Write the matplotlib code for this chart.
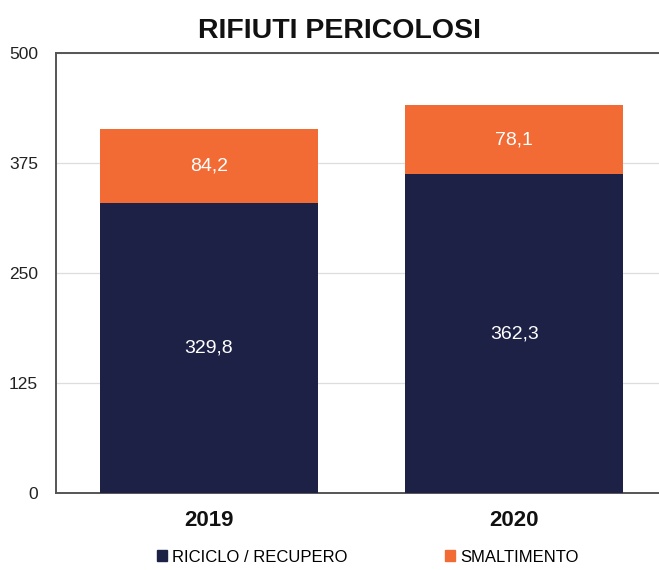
import matplotlib
matplotlib.use("Agg")
import matplotlib.pyplot as plt
from matplotlib.patches import Patch

plt.rcParams['font.family'] = ['Liberation Sans', 'DejaVu Sans']

years = ["2019", "2020"]
riciclo = [329.8, 362.3]
smaltimento = [84.2, 78.1]
yticks = [0, 125, 250, 375, 500]
series_names = ["RICICLO / RECUPERO", "SMALTIMENTO"]
navy = "#1e2146"
orange = "#f26b35"

fig = plt.figure(figsize=(6.59, 5.70), dpi=100)
ax = fig.add_axes([56/659, 77/570, 611/659, 440/570])
x = list(range(len(years)))
ax.bar(x, riciclo, width=0.715, color=navy, zorder=3)
ax.bar(x, smaltimento, bottom=riciclo, width=0.715, color=orange, zorder=3)

def fmt(v):
    return f"{v:.1f}".replace(".", ",")

for i in x:
    ax.text(i, riciclo[i] / 2, fmt(riciclo[i]),
            ha="center", va="center", color="white", fontsize=14, zorder=4)
    ax.text(i, riciclo[i] + smaltimento[i] / 2, fmt(smaltimento[i]),
            ha="center", va="center", color="white", fontsize=14, zorder=4)

ax.set_xlim(-0.5, 1.5)
ax.set_ylim(0, 500)
ax.set_yticks(yticks)
ax.set_yticklabels([str(t) for t in yticks], fontsize=12.5, color="#222222")
ax.set_xticks(x)
ax.set_xticklabels(years, fontsize=16, fontweight="bold", color="#111111")
ax.tick_params(axis="both", length=0)
ax.tick_params(axis="y", pad=13)
ax.tick_params(axis="x", pad=12)
ax.grid(axis="y", color="#dddddd", linewidth=0.9, zorder=0)
for s in ["left", "top", "bottom"]:
    ax.spines[s].set_color("#555555")
    ax.spines[s].set_linewidth(1.4)
ax.spines["right"].set_visible(False)

fig.text(340/659, 1 - 31/570, "RIFIUTI PERICOLOSI", ha="center", va="center",
         fontsize=20.5, fontweight="bold", color="#111111")

handles = [Patch(color=navy), Patch(color=orange)]
fig.legend(handles, series_names, loc="center", bbox_to_anchor=(368/659, 1 - 557/570),
           ncol=2, frameon=False, fontsize=12, handlelength=0.6, handleheight=0.6,
           handletextpad=0.3, columnspacing=5.85)

fig.savefig("out.png", dpi=100)
